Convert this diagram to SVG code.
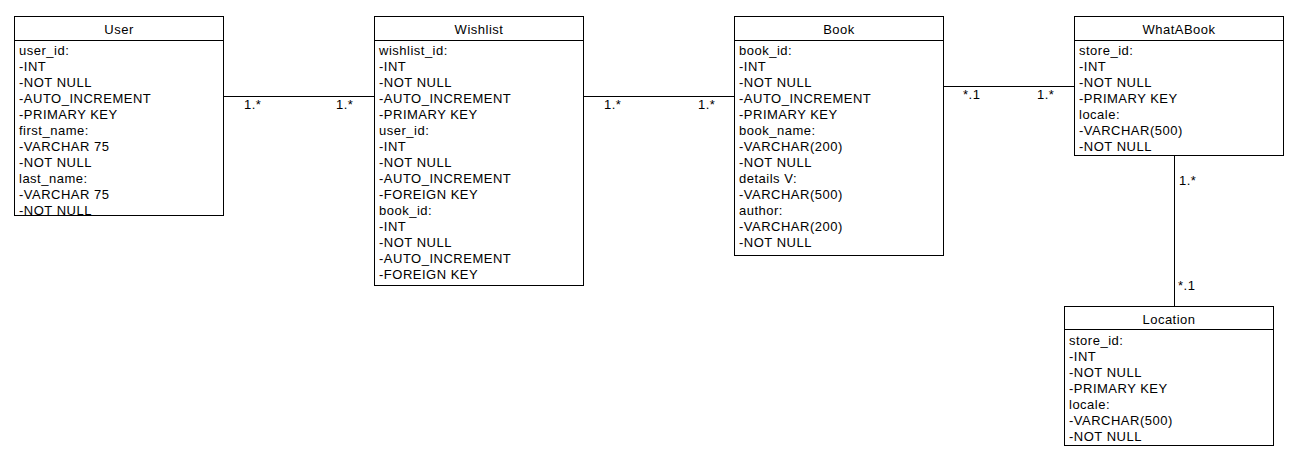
<svg xmlns="http://www.w3.org/2000/svg" width="1304" height="462" viewBox="0 0 1304 462">
<style>
.box{fill:#fff;stroke:#000;stroke-width:1}
.div{stroke:#000;stroke-width:1}
text{font-family:"Liberation Sans",Arial,sans-serif;font-size:13px;fill:#000;letter-spacing:0.5px}
.h{text-anchor:middle}
.c{stroke:#000;stroke-width:1;fill:none}
</style>
<rect width="1304" height="462" fill="#fff"/>
<g id="User">
<rect class="box" x="14.5" y="16.5" width="209" height="199"/>
<line class="div" x1="14.5" y1="40.5" x2="223.5" y2="40.5"/>
<text class="h" x="119" y="34">User</text>
<text x="19" y="54.5">user_id:</text>
<text x="19" y="70.5">-INT</text>
<text x="19" y="86.5">-NOT NULL</text>
<text x="19" y="102.5">-AUTO_INCREMENT</text>
<text x="19" y="118.5">-PRIMARY KEY</text>
<text x="19" y="134.5">first_name:</text>
<text x="19" y="150.5">-VARCHAR 75</text>
<text x="19" y="166.5">-NOT NULL</text>
<text x="19" y="182.5">last_name:</text>
<text x="19" y="198.5">-VARCHAR 75</text>
<text x="19" y="214.5">-NOT NULL</text>
</g>
<g id="Wishlist">
<rect class="box" x="374.5" y="16.5" width="209" height="269"/>
<line class="div" x1="374.5" y1="40.5" x2="583.5" y2="40.5"/>
<text class="h" x="479" y="34">Wishlist</text>
<text x="379" y="54.5">wishlist_id:</text>
<text x="379" y="70.5">-INT</text>
<text x="379" y="86.5">-NOT NULL</text>
<text x="379" y="102.5">-AUTO_INCREMENT</text>
<text x="379" y="118.5">-PRIMARY KEY</text>
<text x="379" y="134.5">user_id:</text>
<text x="379" y="150.5">-INT</text>
<text x="379" y="166.5">-NOT NULL</text>
<text x="379" y="182.5">-AUTO_INCREMENT</text>
<text x="379" y="198.5">-FOREIGN KEY</text>
<text x="379" y="214.5">book_id:</text>
<text x="379" y="230.5">-INT</text>
<text x="379" y="246.5">-NOT NULL</text>
<text x="379" y="262.5">-AUTO_INCREMENT</text>
<text x="379" y="278.5">-FOREIGN KEY</text>
</g>
<g id="Book">
<rect class="box" x="734.5" y="16.5" width="209" height="239"/>
<line class="div" x1="734.5" y1="40.5" x2="943.5" y2="40.5"/>
<text class="h" x="839" y="34">Book</text>
<text x="739" y="54.5">book_id:</text>
<text x="739" y="70.5">-INT</text>
<text x="739" y="86.5">-NOT NULL</text>
<text x="739" y="102.5">-AUTO_INCREMENT</text>
<text x="739" y="118.5">-PRIMARY KEY</text>
<text x="739" y="134.5">book_name:</text>
<text x="739" y="150.5">-VARCHAR(200)</text>
<text x="739" y="166.5">-NOT NULL</text>
<text x="739" y="182.5">details V:</text>
<text x="739" y="198.5">-VARCHAR(500)</text>
<text x="739" y="214.5">author:</text>
<text x="739" y="230.5">-VARCHAR(200)</text>
<text x="739" y="246.5">-NOT NULL</text>
</g>
<g id="WhatABook">
<rect class="box" x="1074.5" y="16.5" width="209" height="139"/>
<line class="div" x1="1074.5" y1="40.5" x2="1283.5" y2="40.5"/>
<text class="h" x="1179" y="34">WhatABook</text>
<text x="1079" y="54.5">store_id:</text>
<text x="1079" y="70.5">-INT</text>
<text x="1079" y="86.5">-NOT NULL</text>
<text x="1079" y="102.5">-PRIMARY KEY</text>
<text x="1079" y="118.5">locale:</text>
<text x="1079" y="134.5">-VARCHAR(500)</text>
<text x="1079" y="150.5">-NOT NULL</text>
</g>
<g id="Location">
<rect class="box" x="1064.5" y="306.5" width="209" height="139"/>
<line class="div" x1="1064.5" y1="329.5" x2="1273.5" y2="329.5"/>
<text class="h" x="1169" y="324">Location</text>
<text x="1069" y="344.5">store_id:</text>
<text x="1069" y="360.5">-INT</text>
<text x="1069" y="376.5">-NOT NULL</text>
<text x="1069" y="392.5">-PRIMARY KEY</text>
<text x="1069" y="408.5">locale:</text>
<text x="1069" y="424.5">-VARCHAR(500)</text>
<text x="1069" y="440.5">-NOT NULL</text>
</g>
<g id="connectors">
<line class="c" x1="223.5" y1="96.5" x2="374.5" y2="96.5"/>
<text x="244" y="109">1.*</text>
<text x="336" y="109">1.*</text>
<line class="c" x1="583.5" y1="96.5" x2="734.5" y2="96.5"/>
<text x="604" y="109">1.*</text>
<text x="698" y="109">1.*</text>
<line class="c" x1="943.5" y1="86.5" x2="1074.5" y2="86.5"/>
<text x="963" y="99">*.1</text>
<text x="1037" y="99">1.*</text>
<line class="c" x1="1174.5" y1="155.5" x2="1174.5" y2="306.5"/>
<text x="1179" y="185">1.*</text>
<text x="1178" y="290">*.1</text>
</g>
</svg>
